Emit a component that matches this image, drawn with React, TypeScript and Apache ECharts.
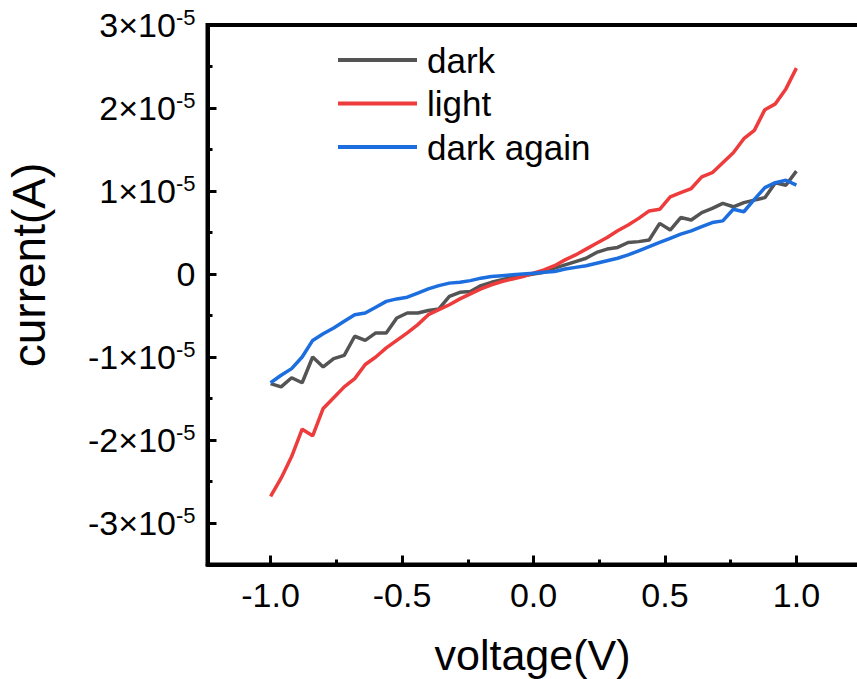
import React, { useEffect, useRef } from 'react';
import * as echarts from 'echarts';

// voltage (V)
const voltage = [
  -1.00, -0.96, -0.92, -0.88, -0.84, -0.80, -0.76, -0.72, -0.68, -0.64,
  -0.60, -0.56, -0.52, -0.48, -0.44, -0.40, -0.36, -0.32, -0.28, -0.24,
  -0.20, -0.16, -0.12, -0.08, -0.04, 0.00, 0.04, 0.08, 0.12, 0.16,
  0.20, 0.24, 0.28, 0.32, 0.36, 0.40, 0.44, 0.48, 0.52, 0.56,
  0.60, 0.64, 0.68, 0.72, 0.76, 0.80, 0.84, 0.88, 0.92, 0.96, 1.00,
];

// current, in units of 1e-5 A
const dark = [
  -1.32, -1.36, -1.25, -1.31, -1.00, -1.12, -1.02, -0.98, -0.75, -0.80,
  -0.71, -0.71, -0.53, -0.47, -0.47, -0.44, -0.42, -0.27, -0.22, -0.21,
  -0.14, -0.10, -0.07, -0.04, -0.02, 0.00, 0.02, 0.07, 0.11, 0.15,
  0.19, 0.26, 0.30, 0.32, 0.38, 0.39, 0.41, 0.61, 0.53, 0.68,
  0.65, 0.74, 0.79, 0.85, 0.81, 0.86, 0.89, 0.92, 1.10, 1.07, 1.24,
];

const light = [
  -2.68, -2.46, -2.20, -1.87, -1.95, -1.62, -1.49, -1.36, -1.26, -1.09,
  -1.00, -0.89, -0.80, -0.71, -0.61, -0.49, -0.43, -0.37, -0.30, -0.24,
  -0.18, -0.13, -0.09, -0.06, -0.03, 0.01, 0.05, 0.10, 0.17, 0.23,
  0.30, 0.37, 0.44, 0.52, 0.59, 0.67, 0.76, 0.78, 0.93, 0.98,
  1.03, 1.17, 1.22, 1.34, 1.46, 1.63, 1.73, 1.98, 2.05, 2.23, 2.48,
];

const darkAgain = [
  -1.31, -1.22, -1.14, -1.00, -0.80, -0.72, -0.65, -0.57, -0.49, -0.47,
  -0.40, -0.33, -0.30, -0.28, -0.23, -0.18, -0.14, -0.11, -0.10, -0.08,
  -0.05, -0.03, -0.02, -0.01, 0.00, 0.01, 0.02, 0.03, 0.06, 0.08,
  0.10, 0.13, 0.16, 0.19, 0.23, 0.28, 0.33, 0.38, 0.43, 0.48,
  0.52, 0.57, 0.62, 0.64, 0.78, 0.75, 0.90, 1.04, 1.10, 1.13, 1.07,
];

const seriesNames = ['dark', 'light', 'dark again'];
const seriesColors = ['#545454', '#EE3B3B', '#1C6EDE'];
const xTickValues = [-1.0, -0.5, 0.0, 0.5, 1.0];
const yTickValues = [-3, -2, -1, 0, 1, 2, 3];
const yExponent = '-5';
const xTitle = 'voltage(V)';
const yTitle = 'current(A)';

const FONT = '"Liberation Sans", Arial, sans-serif';

export default function App() {
  const ref = useRef<HTMLDivElement>(null);

  useEffect(() => {
    if (!ref.current) return;
    const chart = echarts.init(ref.current, undefined, { renderer: 'svg' });
    const allSeries = [dark, light, darkAgain];

    const option: any = {
      animation: false,
      backgroundColor: '#ffffff',
      textStyle: { fontFamily: FONT },
      grid: {
        left: 207.5,
        top: 25,
        right: -2.5,
        bottom: 114.5,
        show: true,
        borderColor: '#000',
        borderWidth: 4,
        containLabel: false,
        outerBoundsMode: 'none',
      },
      legend: {
        orient: 'vertical',
        left: 338,
        top: 42.5,
        padding: 0,
        itemWidth: 79,
        itemHeight: 4,
        itemGap: 8.5,
        icon: 'rect',
        selectedMode: false,
        textStyle: { fontSize: 35, lineHeight: 35, color: '#000', fontFamily: FONT, padding: [0, 0, 0, 5] },
        data: seriesNames,
      },
      xAxis: [
        {
          type: 'value',
          min: -1.24,
          max: 1.24,
          splitNumber: 5,
          position: 'bottom',
          axisLine: { show: true, onZero: false, lineStyle: { color: '#000', width: 4 } },
          axisTick: { show: true, inside: true, length: 9, lineStyle: { color: '#000', width: 3 } },
          splitLine: { show: false },
          axisLabel: {
            show: true,
            margin: 13,
            fontSize: 34,
            lineHeight: 34,
            color: '#000',
            fontFamily: FONT,
            formatter: (v: number) => {
              const hit = xTickValues.find((t) => Math.abs(t - v) < 1e-6);
              return hit === undefined ? '' : hit.toFixed(1);
            },
          },
        },
        {
          // minor ticks (axis shifted by +0.25 V so its nice ticks fall at -0.75, -0.25, 0.25, 0.75)
          type: 'value',
          min: -0.99,
          max: 1.49,
          splitNumber: 5,
          position: 'bottom',
          axisLine: { show: false, onZero: false },
          axisTick: { show: true, inside: true, length: 5, lineStyle: { color: '#000', width: 3 } },
          splitLine: { show: false },
          axisLabel: { show: false },
        },
      ],
      yAxis: [
        {
          type: 'value',
          min: -3.5,
          max: 3,
          splitNumber: 6,
          position: 'left',
          axisLine: { show: true, onZero: false, lineStyle: { color: '#000', width: 4 } },
          axisTick: { show: true, inside: true, length: 9, lineStyle: { color: '#000', width: 3 } },
          splitLine: { show: false },
          axisLabel: {
            show: true,
            margin: 12,
            color: '#000',
            fontFamily: FONT,
            formatter: (v: number) => {
              const hit = yTickValues.find((t) => Math.abs(t - v) < 1e-6);
              if (hit === undefined) return '';
              if (hit === 0) return '{m|0}';
              return `{m|${hit}×10}{s|${yExponent}}`;
            },
            rich: {
              m: { fontSize: 34, lineHeight: 38, color: '#000', fontFamily: FONT },
              s: { fontSize: 22, lineHeight: 22, verticalAlign: 'top', color: '#000', fontFamily: FONT },
            },
          },
        },
        {
          // minor ticks (axis shifted by +0.5 so integer ticks fall at half-decades)
          type: 'value',
          min: -3,
          max: 3.5,
          interval: 1,
          position: 'left',
          axisLine: { show: false, onZero: false },
          axisTick: { show: true, inside: true, length: 5, lineStyle: { color: '#000', width: 3 } },
          splitLine: { show: false },
          axisLabel: { show: false },
        },
      ],
      graphic: [
        {
          type: 'text',
          x: 532.5,
          y: 655,
          style: {
            text: xTitle,
            fontSize: 43,
            fontFamily: FONT,
            fill: '#000',
            textAlign: 'center',
            textVerticalAlign: 'middle',
          },
        },
        {
          type: 'text',
          x: 29,
          y: 265,
          rotation: Math.PI / 2,
          style: {
            text: yTitle,
            fontSize: 46,
            fontFamily: FONT,
            fill: '#000',
            textAlign: 'center',
            textVerticalAlign: 'middle',
          },
        },
      ],
      series: allSeries.map((vals, si) => ({
        name: seriesNames[si],
        type: 'line',
        xAxisIndex: 0,
        yAxisIndex: 0,
        showSymbol: false,
        symbol: 'none',
        color: seriesColors[si],
        lineStyle: { color: seriesColors[si], width: 3.5 },
        data: voltage.map((v, i) => [v, vals[i]]),
      })),
    };

    chart.setOption(option);
    return () => chart.dispose();
  }, []);

  return (
    <div
      ref={ref}
      style={{ position: 'fixed', left: 0, top: 0, width: 857, height: 679, background: '#fff' }}
    />
  );
}
